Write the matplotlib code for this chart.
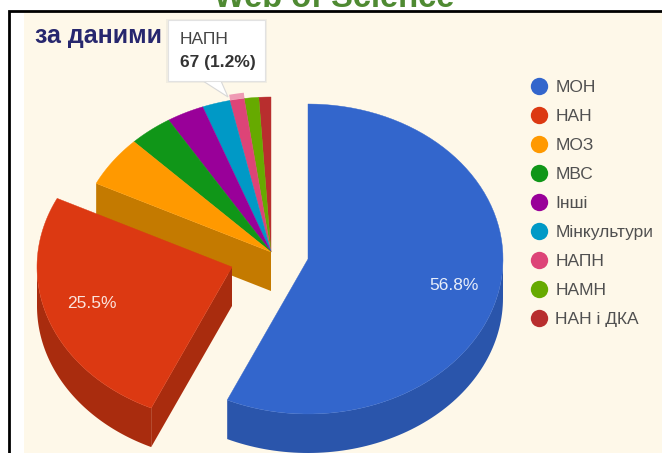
import numpy as np
import matplotlib
matplotlib.use('Agg')
import matplotlib.pyplot as plt
from matplotlib.lines import Line2D
from matplotlib.patches import Polygon, Rectangle

plt.rcParams['font.family'] = ['Liberation Sans', 'DejaVu Sans']

# дані
labels = ['МОН', 'НАН', 'МОЗ', 'МВС', 'Інші', 'Мінкультури', 'НАПН', 'НАМН', 'НАН і ДКА']
values = [56.8, 25.5, 5.3, 3.6, 3.1, 2.3, 1.2, 1.2, 1.0]
colors = ['#3366cc', '#dc3912', '#ff9900', '#109618', '#990099', '#0099c6', '#dd4477', '#66aa00', '#b82e2e']
side_colors = ['#2a55ab', '#a92c0e', '#c47a00', '#0c7512', '#770077', '#007799', '#ab355c', '#4f8400', '#8f2424']
centers = [(308, 259), (232, 267)] + [(271, 252)] * 7

RX, RY, DEPTH = 195, 155, 39


def arc(center, t1, t2, n=80):
    t = np.radians(np.linspace(t1, t2, n))
    return np.column_stack([center[0] + RX * np.sin(t), center[1] - RY * np.cos(t)])


fig = plt.figure(figsize=(6.62, 4.53), dpi=100, facecolor='white')
ax = fig.add_axes([0, 0, 1, 1])
ax.set_xlim(0, 662)
ax.set_ylim(453, 0)
ax.axis('off')

# фон і рамка
ax.add_patch(Rectangle((24, 12), 638, 441, fc='#fef8e9', ec='none', zorder=0))
ax.plot([9, 9, 662], [453, 11, 11], color='black', lw=2, solid_joinstyle='miter', zorder=1)
ax.text(334, 7, 'Web of Science', color='#4f8a32', fontsize=23.5, fontweight='bold',
        ha='center', va='baseline', clip_on=False, zorder=1)
ax.text(35, 36, 'за даними', color='#27276e', fontsize=18, fontweight='bold',
        ha='left', va='center', zorder=1)

# межі секторів за значеннями
edges = np.concatenate([[0], np.cumsum(values)]) / sum(values) * 360

# малюємо ззаду наперед: спочатку дрібні сектори, потім НАН і МОН
for i in list(range(len(values) - 1, 1, -1)) + [1, 0]:
    t1, t2 = edges[i], edges[i + 1]
    c = centers[i]
    down = np.array([0, DEPTH])

    # бічна стінка вздовж розрізу
    if i == 1:
        pts = np.vstack([[c], arc(c, t1, t1, 2), arc(c, t1, t1, 2) + down, [c + down]])
        ax.add_patch(Polygon(pts, fc=side_colors[i], ec='none', zorder=3))
    if i == 2:
        pts = np.vstack([[c], arc(c, t1, t1, 2), arc(c, t1, t1, 2) + down, [c + down]])
        ax.add_patch(Polygon(pts, fc=side_colors[i], ec='none', zorder=2))

    # зовнішній край
    a, b = max(t1, 90), min(t2, 270)
    if a < b:
        rim = arc(c, a, b)
        pts = np.vstack([rim, (rim + down)[::-1]])
        ax.add_patch(Polygon(pts, fc=side_colors[i], ec='none', zorder=3 + (i == 0)))

    # верхня поверхня
    z = 5 if i < 2 else 2.5
    ax.add_patch(Polygon(np.vstack([[c], arc(c, t1, t2)]), fc=colors[i], ec=colors[i], lw=0.3, zorder=z))

# підсвітка сектора НАПН під підказкою
hl = arc(centers[6], edges[6], edges[7], 12) + np.array([0, -3])
ax.plot(hl[:, 0], hl[:, 1], color='#ef9ab4', lw=4, solid_capstyle='butt', zorder=2.6)

# підписи на секторах
ax.text(454, 285, '56.8%', color='#e8eefa', fontsize=12.5, ha='center', va='center', zorder=6)
ax.text(92, 303, '25.5%', color='#fbe3dc', fontsize=12.5, ha='center', va='center', zorder=6)

# підказка
ax.add_patch(Rectangle((166, 19), 101, 64, fc='#e9e6dc', ec='none', alpha=0.6, zorder=6))
ax.add_patch(Polygon([(203, 81), (228, 97), (221, 81)], fc='white', ec='#d8d8d8', lw=0.8, zorder=7))
ax.add_patch(Rectangle((168, 20), 97, 61, fc='white', ec='#e2e2e2', lw=0.8, zorder=7))
ax.text(180, 39, 'НАПН', color='#444444', fontsize=12.5, ha='left', va='center', zorder=8)
ax.text(180, 62, '67 (1.2%)', color='#333333', fontsize=12.5, fontweight='bold', ha='left', va='center', zorder=8)

# легенда
handles = [Line2D([], [], ls='none', marker='o', ms=12.5, mfc=col, mec='none', label=lab)
           for lab, col in zip(labels, colors)]
leg = ax.legend(handles=handles, loc='upper left', bbox_to_anchor=(527 / 662, 1 - 80 / 453),
                frameon=False, fontsize=12.5, labelspacing=0.80, handletextpad=0.23,
                handlelength=1.4, borderpad=0, borderaxespad=0, labelcolor='#505050')
leg.set_zorder(6)

fig.savefig('out.png', dpi=100)
